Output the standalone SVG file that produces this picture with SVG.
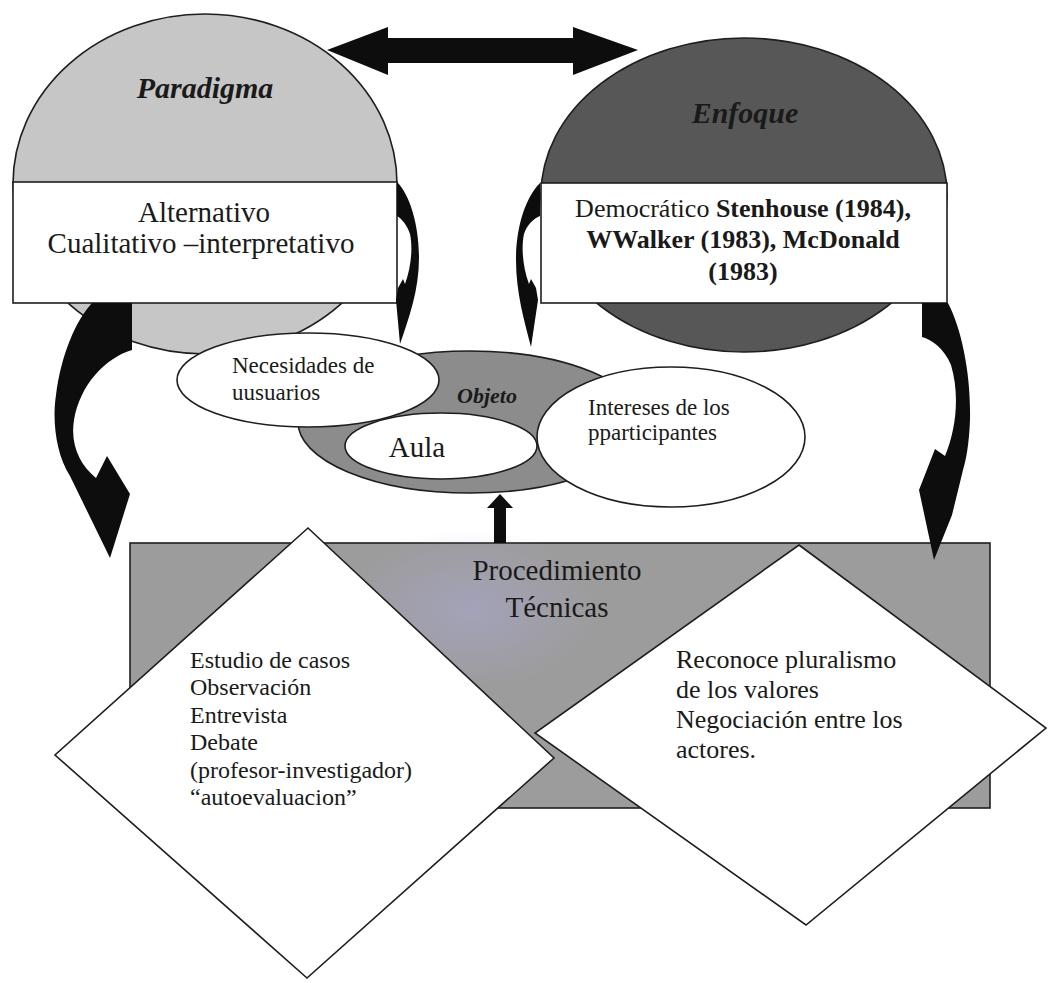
<svg xmlns="http://www.w3.org/2000/svg" width="1051" height="983" viewBox="0 0 1051 983" font-family="Liberation Serif, Times New Roman, DejaVu Serif, serif">
  <style>
    text { fill: #1a1a1a; }
    .outline { stroke: #1e1e1e; stroke-width: 1.6; }
    .white { fill: #ffffff; }
    .head { font-size: 30px; font-weight: bold; font-style: italic; }
    .box { font-size: 29px; }
    .refs { font-size: 26px; }
    .small { font-size: 23px; }
    .list { font-size: 24px; }
    .list2 { font-size: 26px; }
    .arrow { fill: #0d0d0d; stroke: none; }
  </style>
  <defs>
    <radialGradient id="tint" cx="0.5" cy="0.5" r="0.5">
      <stop offset="0" stop-color="#aaa7d0" stop-opacity="0.55"/>
      <stop offset="1" stop-color="#aaa7d0" stop-opacity="0"/>
    </radialGradient>
  </defs>

  <rect x="0" y="0" width="1051" height="983" fill="#ffffff"/>

  <!-- Paradigma -->
  <g id="paradigma">
    <ellipse cx="205" cy="184" rx="192" ry="170" fill="#c6c6c6" class="outline"/>
    <text class="head" x="205" y="98" text-anchor="middle">Paradigma</text>
    <rect x="13" y="182" width="384" height="121" class="white outline"/>
    <text class="box" x="204" y="222" text-anchor="middle" font-size="30">Alternativo</text>
    <text class="box" x="201" y="253" text-anchor="middle">Cualitativo –interpretativo</text>
  </g>

  <!-- Enfoque -->
  <g id="enfoque">
    <ellipse cx="744" cy="195" rx="203" ry="157" fill="#575757" class="outline"/>
    <text class="head" x="745" y="123" text-anchor="middle" fill="#1c1c1c">Enfoque</text>
    <rect x="541" y="183" width="406" height="120" class="white outline"/>
    <text class="refs" x="743" y="217" text-anchor="middle">Democrático <tspan font-weight="bold">Stenhouse (1984),</tspan></text>
    <text class="refs" x="743" y="248" text-anchor="middle" font-weight="bold">WWalker (1983), McDonald</text>
    <text class="refs" x="743" y="280" text-anchor="middle" font-weight="bold">(1983)</text>
  </g>

  <!-- Procedimiento / Técnicas -->
  <g id="procedimiento">
    <rect x="130" y="543" width="860" height="265" fill="#9c9c9c" class="outline"/>
    <ellipse cx="470" cy="610" rx="130" ry="80" fill="url(#tint)"/>
    <text class="box" x="557" y="580" text-anchor="middle">Procedimiento</text>
    <text class="box" x="557" y="617" text-anchor="middle">Técnicas</text>
  </g>

  <!-- Técnicas (diamond, left) -->
  <g id="tecnicas">
    <polygon points="308,528 554,758 307,978 55,755" class="white outline"/>
    <text class="list" x="190" y="668">Estudio de casos</text>
    <text class="list" x="190" y="695">Observación</text>
    <text class="list" x="190" y="723">Entrevista</text>
    <text class="list" x="190" y="750">Debate</text>
    <text class="list" x="190" y="778">(profesor-investigador)</text>
    <text class="list" x="190" y="805">“autoevaluacion”</text>
  </g>

  <!-- Valores (diamond, right) -->
  <g id="valores">
    <polygon points="799,545 1046,728 806,925 535,733" class="white outline"/>
    <text class="list2" x="676" y="668">Reconoce pluralismo</text>
    <text class="list2" x="676" y="698">de los valores</text>
    <text class="list2" x="676" y="728">Negociación entre los</text>
    <text class="list2" x="676" y="758">actores.</text>
  </g>

  <!-- Objeto -->
  <g id="objeto">
    <ellipse cx="470" cy="422" rx="172" ry="71" fill="#8c8c8c" class="outline"/>
    <text x="487" y="403" text-anchor="middle" font-size="22" font-weight="bold" font-style="italic">Objeto</text>
    <ellipse cx="441" cy="446" rx="96" ry="33" class="white outline"/>
    <text class="box" x="417" y="457" text-anchor="middle">Aula</text>
  </g>

  <g id="necesidades">
    <ellipse cx="308" cy="380" rx="131" ry="47" class="white outline"/>
    <text class="small" x="232" y="373">Necesidades de</text>
    <text class="small" x="232" y="400">uusuarios</text>
  </g>

  <g id="intereses">
    <ellipse cx="671" cy="437" rx="134" ry="70" class="white outline"/>
    <text class="small" x="588" y="415">Intereses de los</text>
    <text class="small" x="588" y="440">pparticipantes</text>
  </g>

  <!-- Connectors -->
  <g id="connectors">
    <!-- two-way arrow between Paradigma and Enfoque -->
    <polygon class="arrow" points="327,50 388,27 388,38 573,38 573,27 638,50 573,75 573,63 388,63 388,75"/>
    <!-- Procedimiento up to Objeto -->
    <polygon class="arrow" points="494,543 494,508 487,508 500,494 513,508 506,508 506,543"/>
    <!-- Paradigma down to Procedimiento (left) -->
    <path class="arrow" d="M 92,303 L 132,303 L 132,350 C 105,358 80,385 74,420 C 70,445 80,465 96,478 L 107,456 L 130,494 L 110,558 L 70,476 C 56,455 52,420 56,395 C 61,355 76,320 92,303 Z"/>
    <!-- Enfoque down to Procedimiento (right) -->
    <path class="arrow" d="M 922,303 L 948,303 C 962,330 971,375 970,420 C 969,445 966,460 963,470 L 952,515 L 934,560 L 919,490 L 935,449 L 945,456 C 956,430 960,395 951,365 C 944,348 932,340 922,337 Z"/>
    <!-- Paradigma down to Objeto -->
    <path class="arrow" d="M 397,182 C 410,195 419,225 419,258 C 419,290 409,318 400,344 L 396,300 L 398,288 L 403,279 L 405,284 C 411,268 413,248 410,234 C 407,225 402,219 397,216 Z"/>
    <!-- Enfoque down to Objeto -->
    <path class="arrow" d="M 540,183 C 525,198 516,228 516,260 C 516,292 524,320 531,347 L 538,300 L 536,288 L 531,279 L 529,284 C 523,268 521,248 524,234 C 527,225 533,219 540,216 Z"/>
  </g>
</svg>
